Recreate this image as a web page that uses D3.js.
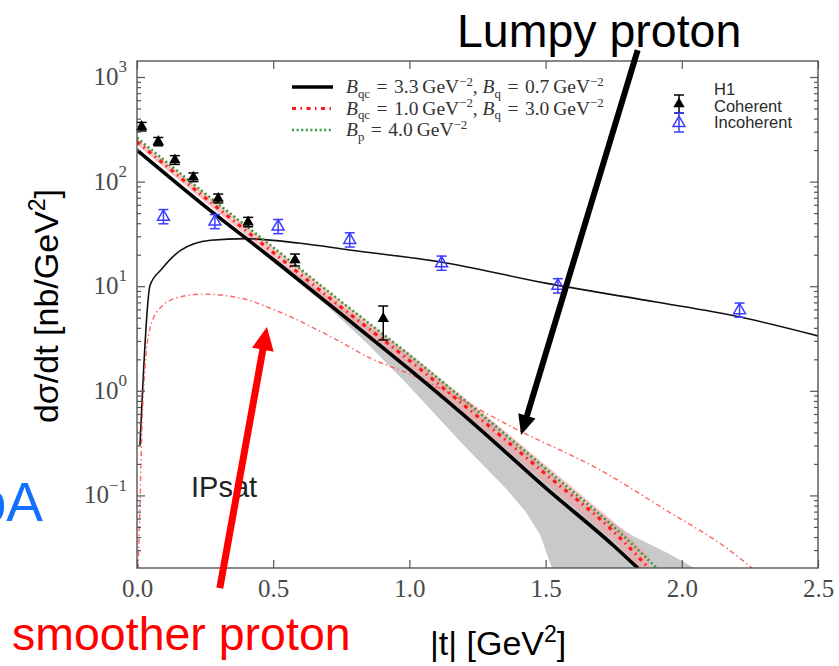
<!DOCTYPE html>
<html>
<head>
<meta charset="utf-8">
<script src="https://cdn.jsdelivr.net/npm/d3@7"></script>
<style>
  html, body { margin: 0; padding: 0; background: #fff; }
  svg { display: block; }
</style>
</head>
<body>
<svg id="chart" width="839" height="666"></svg>
<script>
// ---------- data ----------
const xTickValues = [0, 0.5, 1.0, 1.5, 2.0, 2.5];
const xTickLabels = ["0.0", "0.5", "1.0", "1.5", "2.0", "2.5"];
const yTickExponents = [-1, 0, 1, 2, 3];

// H1 coherent J/psi points
const h1CohT   = [0.017, 0.078, 0.139, 0.207, 0.298, 0.408, 0.58, 0.904];
const h1CohVal = [335, 241, 161, 110, 69, 41, 17.8, 4.9];
const h1CohLo  = [305, 220, 146, 100, 62.5, 37, 15.6, 3.06];
const h1CohHi  = [368, 264, 177, 121, 76, 45.5, 20.3, 6.47];

// H1 incoherent points
const h1IncT   = [0.097, 0.286, 0.518, 0.781, 1.118, 1.545, 2.212];
const h1IncVal = [46, 41.4, 37.1, 27.7, 16.6, 10.1, 5.9];
const h1IncLo  = [39.5, 35.5, 31.8, 23.7, 14.2, 8.6, 5.05];
const h1IncHi  = [54, 48.4, 43.4, 32.4, 19.4, 11.8, 6.9];

// coherent, lumpy proton (Bqc = 3.3, Bq = 0.7)
const lumpyCohT   = [0, 0.25, 0.5, 0.75, 1.0, 1.25, 1.5, 1.75, 1.84];
const lumpyCohVal = [200, 58, 18, 5.4, 1.6, 0.45, 0.118, 0.033, 0.02];
// coherent, smoother proton (Bqc = 1.0, Bq = 3.0)
const smoothCohT   = [0, 0.25, 0.5, 0.75, 1.0, 1.25, 1.5, 1.75, 1.88];
const smoothCohVal = [241, 70, 21, 6.3, 1.95, 0.57, 0.16, 0.045, 0.02];
const smoothBandLo = [225, 64, 18.8, 5.5, 1.68, 0.48, 0.132, 0.037, 0.016];
const smoothBandHi = [258, 77, 23.6, 7.2, 2.28, 0.68, 0.195, 0.056, 0.026];
// coherent, round proton (Bp = 4.0)
const roundCohT   = [0, 0.25, 0.5, 0.75, 1.0, 1.25, 1.5, 1.75, 1.91];
const roundCohVal = [262, 77, 23.5, 7.1, 2.2, 0.64, 0.18, 0.05, 0.02];

// uncertainty band of the lumpy coherent curve
const lumpyBandUpT   = [0.45, 0.7, 1.0, 1.3, 1.5, 1.65, 1.82, 1.95, 2.08];
const lumpyBandUpVal = [23.5, 8.0, 2.2, 0.5, 0.18, 0.082, 0.041, 0.028, 0.018];
const lumpyBandLoT   = [0.45, 0.6, 0.7, 0.85, 1.0, 1.2, 1.35, 1.43, 1.48, 1.53];
const lumpyBandLoVal = [21.5, 10.5, 6.4, 2.75, 1.1, 0.3, 0.12, 0.068, 0.042, 0.018];

// incoherent, lumpy proton
const lumpyIncT   = [0.011, 0.048, 0.09, 0.16, 0.27, 0.40, 0.6, 0.78, 1.11, 1.5, 1.9, 2.21, 2.5];
const lumpyIncVal = [0.3, 10.2, 14.5, 22, 27.5, 28.5, 25.7, 22.2, 17.1, 10.7, 7.1, 5.1, 3.35];
// incoherent, smoother proton
const smoothIncT   = [0.004, 0.011, 0.017, 0.029, 0.048, 0.09, 0.158, 0.24, 0.38, 0.5, 0.73, 0.855, 1.0, 1.416, 1.7, 1.943, 2.175, 2.26];
const smoothIncVal = [0.02, 0.08, 0.36, 1.6, 4.0, 6.4, 7.9, 8.4, 7.7, 6.0, 3.1, 2.06, 1.45, 0.4, 0.175, 0.072, 0.03, 0.02];

// annotation arrows, in data units [t, dsigma/dt]
const lumpyArrow  = [[1.838, 1811], [1.41, 0.378]];
const smoothArrow = [[0.304, 0.013], [0.477, 4.07]];

// ---------- scales ----------
const svg = d3.select("#chart");
const x = d3.scaleLinear().domain([0, 2.5]).range([137, 818]);
const y = d3.scaleLog().domain([Math.pow(10, -1.694), Math.pow(10, 3.153)]).range([568, 61]);
const [x0, x1] = x.range();
const [y0, y1] = y.range();

const zip = (ts, vs) => ts.map((t, i) => [t, vs[i]]);
const line = d3.line().x(d => x(d[0])).y(d => y(d[1]));
const curve = d3.line().x(d => x(d[0])).y(d => y(d[1])).curve(d3.curveMonotoneX);

svg.append("defs").append("clipPath").attr("id", "plotClip")
  .append("rect").attr("x", x0).attr("y", y1).attr("width", x1 - x0).attr("height", y0 - y1);

const plot = svg.append("g").attr("clip-path", "url(#plotClip)");

// grey band
const bandPts = zip(lumpyBandUpT, lumpyBandUpVal).concat(zip(lumpyBandLoT, lumpyBandLoVal).reverse());
plot.append("path").attr("d", line(bandPts) + "Z")
  .attr("fill", "#c9c9c9").attr("stroke", "none");

// pink band
const pinkPts = zip(smoothCohT, smoothBandHi).concat(zip(smoothCohT, smoothBandLo).reverse());
plot.append("path").attr("d", line(pinkPts) + "Z")
  .attr("fill", "#f2a0a0").attr("fill-opacity", 0.6).attr("stroke", "none");

// incoherent curves
plot.append("path").attr("d", curve(zip(lumpyIncT, lumpyIncVal)))
  .attr("fill", "none").attr("stroke", "#111").attr("stroke-width", 1.6);
plot.append("path").attr("d", curve(zip(smoothIncT, smoothIncVal)))
  .attr("fill", "none").attr("stroke", "#ff4a4a").attr("stroke-opacity", 0.85)
  .attr("stroke-width", 1.4).attr("stroke-dasharray", "5,3,1.5,3");

// coherent curves
plot.append("path").attr("d", curve(zip(lumpyCohT, lumpyCohVal)))
  .attr("fill", "none").attr("stroke", "#000").attr("stroke-width", 3.6);
plot.append("path").attr("d", curve(zip(smoothCohT, smoothCohVal)))
  .attr("fill", "none").attr("stroke", "#ff1a1a").attr("stroke-width", 3.2)
  .attr("stroke-dasharray", "4,4.5,1.5,4.5");
plot.append("path").attr("d", curve(zip(roundCohT, roundCohVal)))
  .attr("fill", "none").attr("stroke", "#3a9a3a").attr("stroke-width", 2.6)
  .attr("stroke-dasharray", "2,2.6");

// H1 points
const black = "#000", blue = "#3c3cff";
const tri = d3.symbol().type(d3.symbolTriangle);
const capW = 5;

function errorBars(g, ts, lo, hi, color) {
  ts.forEach((t, i) => {
    const cx = x(t);
    g.append("line").attr("x1", cx).attr("x2", cx).attr("y1", y(lo[i])).attr("y2", y(hi[i]))
      .attr("stroke", color).attr("stroke-width", 1.5);
    [lo[i], hi[i]].forEach(v => g.append("line")
      .attr("x1", cx - capW).attr("x2", cx + capW).attr("y1", y(v)).attr("y2", y(v))
      .attr("stroke", color).attr("stroke-width", 1.5));
  });
}
const pts = svg.append("g");
errorBars(pts, h1IncT, h1IncLo, h1IncHi, blue);
h1IncT.forEach((t, i) => pts.append("path").attr("d", tri.size(62)())
  .attr("transform", `translate(${x(t)},${y(h1IncVal[i])})`)
  .attr("fill", "none").attr("stroke", blue).attr("stroke-width", 1.5));
errorBars(pts, h1CohT, h1CohLo, h1CohHi, black);
h1CohT.forEach((t, i) => pts.append("path").attr("d", tri.size(56)())
  .attr("transform", `translate(${x(t)},${y(h1CohVal[i])})`)
  .attr("fill", black));

// ---------- axes ----------
const axisColor = "#555";
const serif = "Liberation Serif, DejaVu Serif, serif";
const sans = "Liberation Sans, Arial, Helvetica, sans-serif";

const minorY = [];
for (let e = -2; e <= 3; e++) for (let m = 2; m <= 9; m++) {
  const v = m * Math.pow(10, e);
  if (v >= y.domain()[0] && v <= y.domain()[1]) minorY.push(v);
}
const majorY = yTickExponents.map(e => Math.pow(10, e));

function styleAxis(g) {
  g.select(".domain").remove();
  g.selectAll(".tick line").attr("stroke", axisColor).attr("stroke-width", 1.2);
}

svg.append("g").attr("transform", `translate(0,${y0})`)
  .call(d3.axisBottom(x).tickValues(xTickValues).tickSizeInner(-8).tickSizeOuter(0).tickPadding(14)
    .tickFormat((d, i) => xTickLabels[i]))
  .call(styleAxis)
  .call(g => g.selectAll(".tick text").attr("font-family", serif).attr("font-size", 25)
    .attr("fill", "#4a4a4a").attr("dy", "0.6em"));
svg.append("g").attr("transform", `translate(0,${y1})`)
  .call(d3.axisTop(x).tickValues(xTickValues).tickSizeInner(-8).tickSizeOuter(0).tickFormat(""))
  .call(styleAxis);

svg.append("g").attr("transform", `translate(${x0},0)`)
  .call(d3.axisLeft(y).tickValues(minorY).tickSizeInner(-4).tickSizeOuter(0).tickFormat(""))
  .call(styleAxis);
svg.append("g").attr("transform", `translate(${x1},0)`)
  .call(d3.axisRight(y).tickValues(minorY).tickSizeInner(-4).tickSizeOuter(0).tickFormat(""))
  .call(styleAxis);
svg.append("g").attr("transform", `translate(${x1},0)`)
  .call(d3.axisRight(y).tickValues(majorY).tickSizeInner(-8).tickSizeOuter(0).tickFormat(""))
  .call(styleAxis);
svg.append("g").attr("transform", `translate(${x0},0)`)
  .call(d3.axisLeft(y).tickValues(majorY).tickSizeInner(-8).tickSizeOuter(0).tickPadding(10).tickFormat(""))
  .call(styleAxis)
  .call(g => g.selectAll(".tick text").each(function (d) {
    const t = d3.select(this).attr("font-family", serif).attr("fill", "#4a4a4a")
      .attr("font-size", 25).attr("dy", "0.3em").attr("text-anchor", "end");
    const e = Math.round(Math.log10(d));
    t.append("tspan").text("10");
    t.append("tspan").attr("font-size", 17).attr("dy", "-0.75em")
      .text(e < 0 ? "\u2212" + (-e) : String(e));
  }));

// frame
svg.append("rect").attr("x", x0).attr("y", y1).attr("width", x1 - x0).attr("height", y0 - y1)
  .attr("fill", "none").attr("stroke", axisColor).attr("stroke-width", 1.4);

// ---------- legends ----------
function richText(g, px, py, parts, size, family, fill) {
  const t = g.append("text").attr("x", px).attr("y", py)
    .attr("font-family", family).attr("font-size", size).attr("fill", fill);
  let shift = 0;
  parts.forEach(([s, kind]) => {
    const small = kind === "sub" || kind === "sup";
    const target = kind === "sub" ? size * 0.25 : kind === "sup" ? -size * 0.38 : 0;
    t.append("tspan").attr("dy", target - shift)
      .attr("font-size", small ? size * 0.66 : size)
      .attr("font-style", kind === "i" ? "italic" : null)
      .text(s);
    shift = target;
  });
  return t;
}

const eq = "\u2004=\u2004";
const leg = svg.append("g");
const legRows = [
  { y: 93, stroke: "#000", w: 3.6, dash: null,
    parts: [["B", "i"], ["qc", "sub"], [eq + "3.3\u2009GeV", ""], ["\u22122", "sup"], [", ", ""], ["B", "i"], ["q", "sub"], [eq + "0.7\u2009GeV", ""], ["\u22122", "sup"]] },
  { y: 114.5, stroke: "#ff1a1a", w: 3.2, dash: "4,4.5,1.5,4.5",
    parts: [["B", "i"], ["qc", "sub"], [eq + "1.0\u2009GeV", ""], ["\u22122", "sup"], [", ", ""], ["B", "i"], ["q", "sub"], [eq + "3.0\u2009GeV", ""], ["\u22122", "sup"]] },
  { y: 136, stroke: "#3a9a3a", w: 2.6, dash: "2,2.6",
    parts: [["B", "i"], ["p", "sub"], [eq + "4.0\u2009GeV", ""], ["\u22122", "sup"]] }
];
legRows.forEach(r => {
  leg.append("line").attr("x1", 292).attr("x2", 333).attr("y1", r.y - 6).attr("y2", r.y - 6)
    .attr("stroke", r.stroke).attr("stroke-width", r.w).attr("stroke-dasharray", r.dash);
  richText(leg, 346, r.y, r.parts, 19.5, serif, "#333");
});

// H1 legend
const mx = 679;
const h1Labels = [["H1", 95], ["Coherent", 111.5], ["Incoherent", 128]];
h1Labels.forEach(([s, ly]) => leg.append("text").attr("x", 714).attr("y", ly)
  .attr("font-family", sans).attr("font-size", 16.5).attr("fill", "#2a2a2a").text(s));
[[95, 113, black], [113, 132, blue]].forEach(([a, b, c]) => {
  leg.append("line").attr("x1", mx).attr("x2", mx).attr("y1", a).attr("y2", b).attr("stroke", c).attr("stroke-width", 1.5);
  [a, b].forEach(v => leg.append("line").attr("x1", mx - capW).attr("x2", mx + capW).attr("y1", v).attr("y2", v).attr("stroke", c).attr("stroke-width", 1.5));
});
leg.append("path").attr("d", tri.size(56)()).attr("transform", `translate(${mx},104)`).attr("fill", black);
leg.append("path").attr("d", tri.size(62)()).attr("transform", `translate(${mx},123)`)
  .attr("fill", "none").attr("stroke", blue).attr("stroke-width", 1.5);

// ---------- annotations ----------
const ann = svg.append("g");
ann.append("text").attr("x", 191).attr("y", 497).attr("font-family", sans).attr("font-size", 29)
  .attr("fill", "#222").text("IPsat");

function arrow(g, from, to, color, width, headLen, headHalf) {
  const p0 = [x(from[0]), y(from[1])], p1 = [x(to[0]), y(to[1])];
  const dx = p1[0] - p0[0], dy = p1[1] - p0[1], L = Math.hypot(dx, dy);
  const ux = dx / L, uy = dy / L, nx = -uy, ny = ux;
  const bx = p1[0] - ux * headLen, by = p1[1] - uy * headLen;
  g.append("line").attr("x1", p0[0]).attr("y1", p0[1]).attr("x2", bx + ux * 2).attr("y2", by + uy * 2)
    .attr("stroke", color).attr("stroke-width", width);
  g.append("path").attr("d", `M${p1[0]},${p1[1]}L${bx + nx * headHalf},${by + ny * headHalf}L${bx - nx * headHalf},${by - ny * headHalf}Z`)
    .attr("fill", color);
}
arrow(ann, lumpyArrow[0], lumpyArrow[1], "#000", 6, 20, 9);
arrow(ann, smoothArrow[0], smoothArrow[1], "#ff0000", 7, 23, 11);

ann.append("text").attr("x", 457).attr("y", 47).attr("font-family", sans).attr("font-size", 46.5)
  .attr("fill", "#000").text("Lumpy proton");
ann.append("text").attr("x", 12).attr("y", 650).attr("font-family", sans).attr("font-size", 46.5)
  .attr("fill", "#ff0000").text("smoother proton");
ann.append("text").attr("x", 43).attr("y", 521).attr("text-anchor", "end").attr("font-family", sans)
  .attr("font-size", 55).attr("fill", "#1070ff").text("pA");

// axis titles
const xt = ann.append("text").attr("x", 430).attr("y", 655).attr("font-family", sans)
  .attr("font-size", 34).attr("fill", "#000");
xt.append("tspan").text("|t| [GeV");
xt.append("tspan").attr("font-size", 23).attr("dy", -13).text("2");
xt.append("tspan").attr("dy", 13).text("]");

const yt = ann.append("text").attr("transform", "translate(58,306) rotate(-90)")
  .attr("text-anchor", "middle").attr("font-family", sans).attr("font-size", 34).attr("fill", "#000");
yt.append("tspan").text("d\u03c3/dt [nb/GeV");
yt.append("tspan").attr("font-size", 23).attr("dy", -13).text("2");
yt.append("tspan").attr("dy", 13).text("]");
</script>
</body>
</html>
